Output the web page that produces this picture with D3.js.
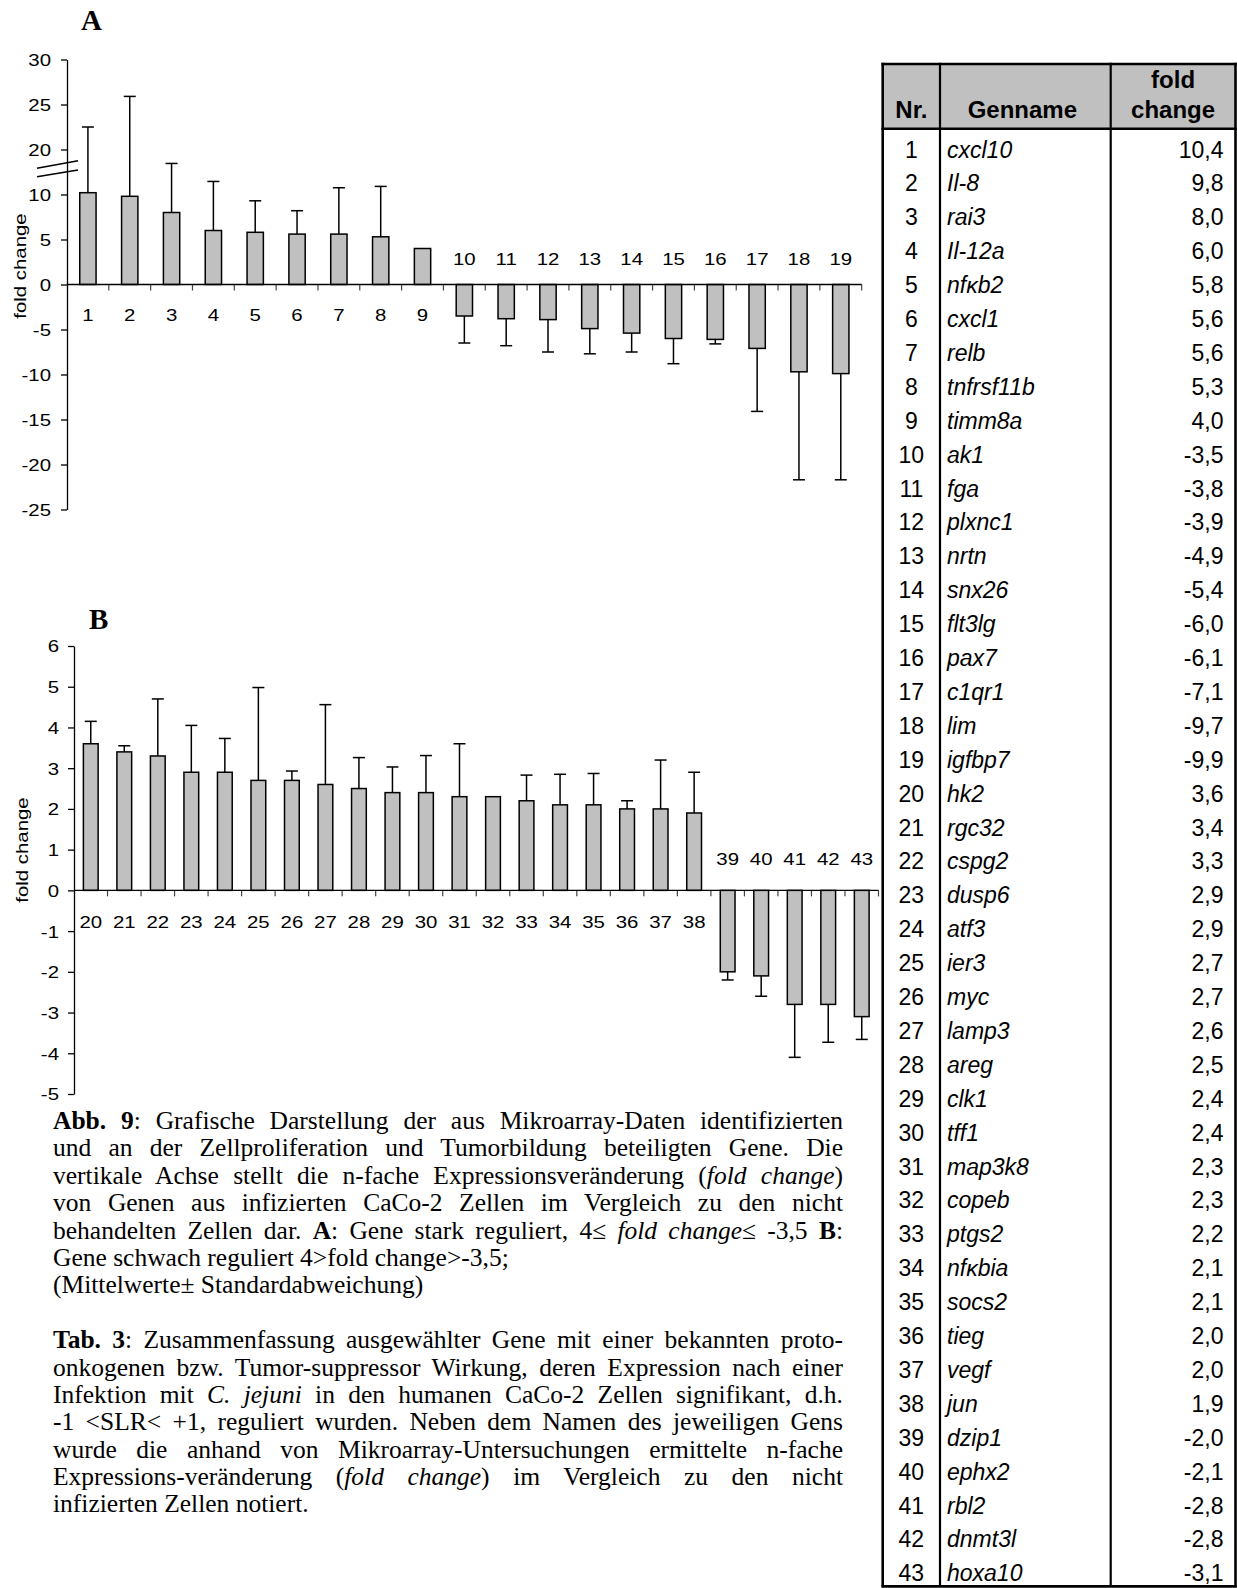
<!DOCTYPE html>
<html>
<head>
<meta charset="utf-8">
<script src="https://cdn.jsdelivr.net/npm/d3@7"></script>
<style>
  html, body { margin: 0; padding: 0; background: #fff; }
  #fig { position: absolute; left: 0; top: 0; }
  #fig text { font-family: "Liberation Sans", Arial, Helvetica, sans-serif; fill: #000; }
  #caption {
    position: absolute; left: 53px; top: 1107px; width: 790px;
    font-family: "Liberation Serif", "Times New Roman", serif;
    font-size: 25.5px; line-height: 27.4px; color: #000;
  }
  #caption div { white-space: nowrap; height: 27.4px; }
  #caption .j { text-align: justify; text-align-last: justify; }
</style>
</head>
<body>
<svg id="fig" width="1237" height="1588"></svg>
<div id="caption"></div>
<script>
// Gene numbers, names, mean fold change and standard deviation (genes 1-19: panel A, 20-43: panel B)
const geneNr = [1, 2, 3, 4, 5, 6, 7, 8, 9, 10, 11, 12, 13, 14, 15, 16, 17, 18, 19, 20, 21, 22,
  23, 24, 25, 26, 27, 28, 29, 30, 31, 32, 33, 34, 35, 36, 37, 38, 39, 40, 41, 42, 43];
const geneNames = ["cxcl10", "Il-8", "rai3", "Il-12a", "nfκb2", "cxcl1", "relb", "tnfrsf11b", "timm8a",
  "ak1", "fga", "plxnc1", "nrtn", "snx26", "flt3lg", "pax7", "c1qr1", "lim", "igfbp7",
  "hk2", "rgc32", "cspg2", "dusp6", "atf3", "ier3", "myc", "lamp3", "areg", "clk1", "tff1",
  "map3k8", "copeb", "ptgs2", "nfκbia", "socs2", "tieg", "vegf", "jun", "dzip1", "ephx2",
  "rbl2", "dnmt3l", "hoxa10"];
const foldChange = [10.4, 9.8, 8.0, 6.0, 5.8, 5.6, 5.6, 5.3, 4.0, -3.5, -3.8, -3.9, -4.9, -5.4,
  -6.0, -6.1, -7.1, -9.7, -9.9, 3.6, 3.4, 3.3, 2.9, 2.9, 2.7, 2.7, 2.6, 2.5, 2.4, 2.4, 2.3, 2.3,
  2.2, 2.1, 2.1, 2.0, 2.0, 1.9, -2.0, -2.1, -2.8, -2.8, -3.1];
const stdDev = [12.1, 16.1, 8.9, 6.9, 3.5, 2.6, 5.9, 6.5, 0, 3.0, 3.0, 3.6, 2.8, 2.1, 2.8, 0.5,
  7.0, 12.0, 11.8, 0.55, 0.15, 1.4, 1.15, 0.83, 2.28, 0.23, 1.96, 0.76, 0.63, 0.91, 1.3, 0,
  0.63, 0.75, 0.77, 0.2, 1.2, 1.0, 0.2, 0.5, 1.3, 0.93, 0.56];

// Axis tick values (panel A has a broken axis between 10 and 20)
const ticksA = [30, 25, 20, 10, 5, 0, -5, -10, -15, -20, -25];
const ticksB = [6, 5, 4, 3, 2, 1, 0, -1, -2, -3, -4, -5];
const panelCount = 19;

// Table header text
const headNr = "Nr.";
const headName = "Genname";
const headFold = ["fold", "change"];

const fmtComma = v => v.toFixed(1).replace(".", ",");
const svg = d3.select("#fig");

// Arial-like labels in the chart run ~20% wider than the plain face
const SX = 1.2;
function stretch(sel, sx) {
  sel.each(function () {
    const t = d3.select(this);
    const X = +t.attr("x") || 0, Y = +t.attr("y") || 0;
    t.attr("x", 0).attr("y", 0)
      .attr("transform", `translate(${X},${Y}) scale(${sx},1)`);
  });
}

function drawPanel(o) {
  const g = svg.append("g");
  const rows = o.nr.map((n, i) => ({ n, v: o.vals[i], sd: o.sds[i] }));
  const x = d3.scaleBand().domain(o.nr).range([o.left, o.right])
    .paddingInner(o.pad).paddingOuter(o.pad / 2);
  const y = o.y;
  const zero = y(0);

  // category separator ticks along the zero line
  const bounds = d3.range(1, o.nr.length + 1).map(k => o.left + k * x.step());
  g.selectAll("line.xt").data(bounds).join("line")
    .attr("x1", d => d).attr("x2", d => d)
    .attr("y1", zero).attr("y2", zero + 6)
    .attr("stroke", "#444").attr("stroke-width", 1.2);

  // bars
  g.selectAll("rect.bar").data(rows).join("rect")
    .attr("x", d => x(d.n)).attr("width", x.bandwidth())
    .attr("y", d => y(Math.max(0, d.v)))
    .attr("height", d => Math.abs(y(d.v) - zero))
    .attr("fill", "#c0c0c0").attr("stroke", "#000").attr("stroke-width", 1.5);

  // one-sided error bars
  const cx = d => x(d.n) + x.bandwidth() / 2;
  const tip = d => y(d.v >= 0 ? d.v + d.sd : d.v - d.sd);
  const eb = g.selectAll("g.eb").data(rows.filter(d => d.sd > 0)).join("g");
  eb.append("line").attr("x1", cx).attr("x2", cx)
    .attr("y1", d => y(d.v)).attr("y2", tip)
    .attr("stroke", "#000").attr("stroke-width", 1.5);
  eb.append("line").attr("x1", d => cx(d) - 6).attr("x2", d => cx(d) + 6)
    .attr("y1", tip).attr("y2", tip)
    .attr("stroke", "#000").attr("stroke-width", 1.5);

  // zero line
  g.append("line").attr("x1", o.left).attr("x2", o.right)
    .attr("y1", zero).attr("y2", zero)
    .attr("stroke", "#000").attr("stroke-width", 1.4);

  // y axis
  const ax = g.append("g").attr("transform", `translate(${o.left},0)`)
    .call(d3.axisLeft(y).tickValues(o.ticks).tickSize(6).tickSizeOuter(0)
      .tickFormat(d => String(d)));
  ax.select(".domain").attr("stroke", "#000").attr("stroke-width", 1.3);
  ax.selectAll(".tick line").attr("stroke", "#000").attr("stroke-width", 1.3);
  ax.selectAll(".tick text").attr("font-size", 17).attr("x", -o.tickGap)
    .attr("dy", "0.35em").attr("font-family", null);
  stretch(ax.selectAll(".tick text"), SX);

  // category numbers: below the axis for up-regulated, above for down-regulated genes
  const lab = g.selectAll("text.cat").data(rows).join("text")
    .attr("x", d => cx(d))
    .attr("y", d => d.v >= 0 ? zero + o.below : zero + o.above)
    .attr("text-anchor", "middle").attr("font-size", 17)
    .text(d => d.n);
  stretch(lab, SX);

  // axis title
  g.append("text")
    .attr("text-anchor", "middle").attr("font-size", 17)
    .attr("transform", `translate(${o.titleX},${o.titleY}) rotate(-90) scale(${SX},1)`)
    .text("fold change");

  // panel letter
  g.append("text").attr("x", o.letterX).attr("y", o.letterY)
    .style("font-family", "'Liberation Serif','Times New Roman',serif")
    .attr("font-weight", "bold").attr("font-size", 29)
    .text(o.letter);
  return { g, y };
}

// Panel A: strongly regulated genes, broken axis above 10
const yA = d3.scaleLinear().domain([-25, 10, 20, 30]).range([509.5, 194.5, 149.5, 59.5]);
const pA = drawPanel({
  nr: geneNr.slice(0, panelCount), vals: foldChange.slice(0, panelCount), sds: stdDev.slice(0, panelCount),
  y: yA, ticks: ticksA, left: 67, right: 861.7, pad: 0.61,
  below: 36.5, above: -20, tickGap: 16, titleX: 26, titleY: 266,
  letter: "A", letterX: 81, letterY: 30
});
// break marks across the axis
[[168.3, 160.7], [176.7, 170.0]].forEach(([a, b]) => {
  pA.g.append("line").attr("x1", 37).attr("y1", a).attr("x2", 78).attr("y2", b)
    .attr("stroke", "#000").attr("stroke-width", 1.6);
});

// Panel B: weakly regulated genes
const yB = d3.scaleLinear().domain([-5, 6]).range([1094, 646]);
drawPanel({
  nr: geneNr.slice(panelCount), vals: foldChange.slice(panelCount), sds: stdDev.slice(panelCount),
  y: yB, ticks: ticksB, left: 74, right: 878.5, pad: 0.56,
  below: 38, above: -25.3, tickGap: 15, titleX: 28, titleY: 850,
  letter: "B", letterX: 89, letterY: 629
});

// Table of genes
const T = { left: 882.7, c1: 940, c2: 1110.7, right: 1235.5, top: 64, head: 128.7, rowH: 33.9 };
const tg = svg.append("g");
const tableBottom = T.head + geneNr.length * T.rowH;
tg.append("rect").attr("x", T.left).attr("y", T.top)
  .attr("width", T.right - T.left).attr("height", T.head - T.top).attr("fill", "#c0c0c0");

tg.append("text").attr("x", (T.left + T.c1) / 2).attr("y", 118)
  .attr("text-anchor", "middle").attr("font-weight", "bold").attr("font-size", 24).text(headNr);
tg.append("text").attr("x", (T.c1 + T.c2) / 2 - 3).attr("y", 118)
  .attr("text-anchor", "middle").attr("font-weight", "bold").attr("font-size", 24).text(headName);
tg.selectAll("text.hf").data(headFold).join("text")
  .attr("x", (T.c2 + T.right) / 2).attr("y", (d, i) => 88 + i * 30)
  .attr("text-anchor", "middle").attr("font-weight", "bold").attr("font-size", 24).text(d => d);

const row = tg.selectAll("g.row").data(geneNr).join("g")
  .attr("transform", (d, i) => `translate(0,${T.head + i * T.rowH + 28.8})`);
row.append("text").attr("x", (T.left + T.c1) / 2).attr("text-anchor", "middle")
  .attr("font-size", 23).text(d => d);
row.append("text").attr("x", T.c1 + 7).attr("font-size", 23).attr("font-style", "italic")
  .text((d, i) => geneNames[i]);
row.append("text").attr("x", T.right - 12).attr("text-anchor", "end").attr("font-size", 23)
  .text((d, i) => fmtComma(foldChange[i]));

// grid lines
const vlines = [[T.left, 2.6], [T.c1, 2.2], [T.c2, 2.2], [T.right, 2.6]];
vlines.forEach(([xv, w]) => tg.append("line").attr("x1", xv).attr("x2", xv)
  .attr("y1", T.top - 1.3).attr("y2", tableBottom).attr("stroke", "#000").attr("stroke-width", w));
[[T.top, 2.6], [T.head, 2.4], [tableBottom, 2.6]].forEach(([yv, w]) => tg.append("line")
  .attr("x1", T.left - 1.3).attr("x2", T.right + 1.3).attr("y1", yv).attr("y2", yv)
  .attr("stroke", "#000").attr("stroke-width", w));

// Figure and table captions
const captionLines = [
  ["j", "<b>Abb. 9</b>: Grafische Darstellung der aus Mikroarray-Daten identifizierten"],
  ["j", "und an der Zellproliferation und Tumorbildung beteiligten Gene. Die"],
  ["j", "vertikale Achse stellt die n-fache Expressionsveränderung (<i>fold change</i>)"],
  ["j", "von Genen aus infizierten CaCo-2 Zellen im Vergleich zu den nicht"],
  ["j", "behandelten Zellen dar. <b>A</b>: Gene stark reguliert, 4≤ <i>fold change</i>≤ -3,5 <b>B</b>:"],
  ["l", "Gene schwach reguliert 4&gt;fold change&gt;-3,5;"],
  ["l", "(Mittelwerte± Standardabweichung)"],
  ["gap", ""],
  ["j", "<b>Tab. 3</b>: Zusammenfassung ausgewählter Gene mit einer bekannten proto-"],
  ["j", "onkogenen bzw. Tumor-suppressor Wirkung, deren Expression nach einer"],
  ["j", "Infektion mit <i>C. jejuni</i> in den humanen CaCo-2 Zellen signifikant, d.h."],
  ["j", "-1 &lt;SLR&lt; +1, reguliert wurden. Neben dem Namen des jeweiligen Gens"],
  ["j", "wurde die anhand von Mikroarray-Untersuchungen ermittelte n-fache"],
  ["j", "Expressions-veränderung (<i>fold change</i>) im Vergleich zu den nicht"],
  ["l", "infizierten Zellen notiert."]
];
d3.select("#caption").selectAll("div").data(captionLines).join("div")
  .attr("class", d => d[0]).html(d => d[1] || "&nbsp;");
</script>
</body>
</html>
